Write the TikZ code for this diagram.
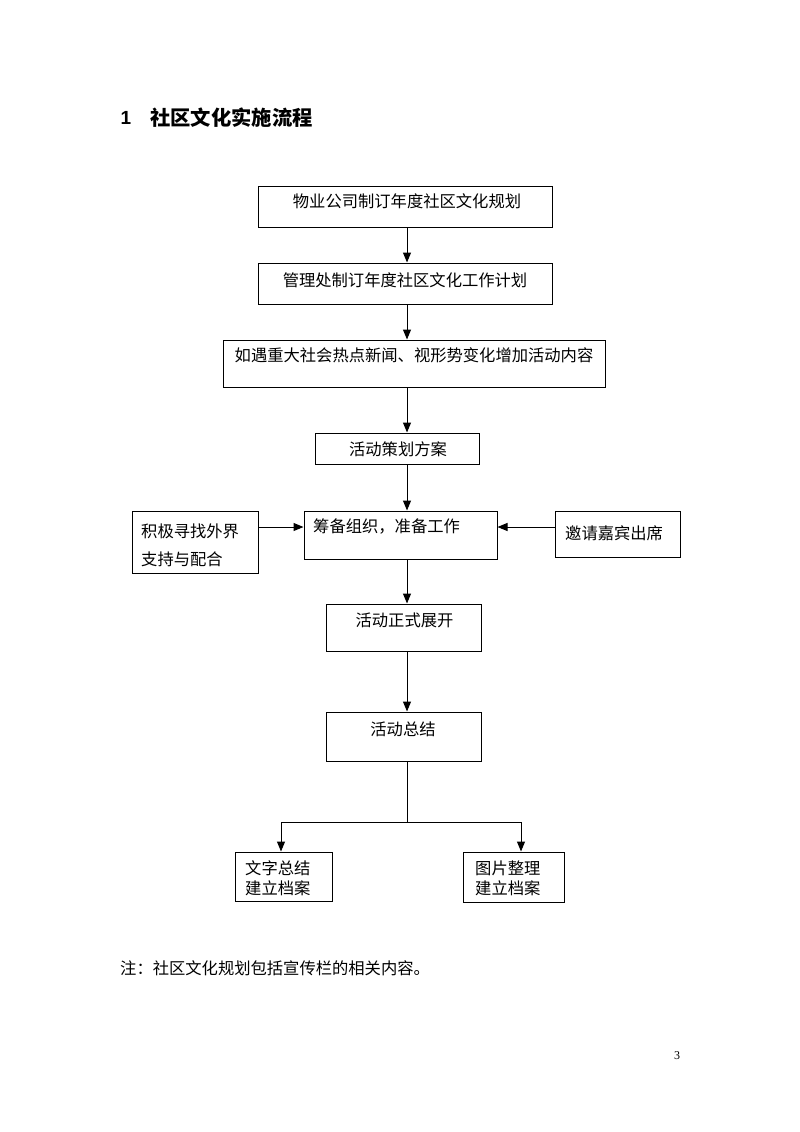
\documentclass[tikz,border=0pt]{standalone}
\usepackage{fontspec}
\usetikzlibrary{arrows.meta}
\newfontfamily\cjk{Noto Sans CJK SC}
\setmainfont{Liberation Serif}
\newfontfamily\lsans{Liberation Sans}
\begin{document}
\begin{tikzpicture}[x=1pt,y=-1pt,
  box/.style={draw, line width=1pt, inner sep=0pt},
  txt/.style={font=\fontsize{16.3}{28}\cjk, inner sep=0pt},
  arr/.style={line width=1pt, -{Triangle[length=10pt,width=8pt]}},
  ln/.style={line width=1pt}]
\useasboundingbox (0,0) rectangle (800,1132);
% title
\node[font=\fontsize{19}{22}\lsans\bfseries, inner sep=0pt] (num) at (126,118) {1};
\node[font=\fontsize{20.3}{22}\cjk\bfseries, anchor=west, inner sep=0pt] (title) at (150,118) {社区文化实施流程};
% boxes
\node[box, minimum width=294, minimum height=41] (b1) at (405,206.5) {};
\node[txt] (t1) at (407,201) {物业公司制订年度社区文化规划};
\node[box, minimum width=294, minimum height=41] (b2) at (405,283.5) {};
\node[txt] (t2) at (405,280) {管理处制订年度社区文化工作计划};
\node[box, minimum width=382, minimum height=47] (b3) at (414,363.5) {};
\node[txt] (t3) at (414,355) {如遇重大社会热点新闻、视形势变化增加活动内容};
\node[box, minimum width=164, minimum height=31] (b4) at (397,448.5) {};
\node[txt] (t4) at (398,449) {活动策划方案};
\node[box, minimum width=193, minimum height=48] (b5) at (400.5,535) {};
\node[txt, anchor=west] (t5) at (313,526) {筹备组织，准备工作};
\node[box, minimum width=126, minimum height=62] (bl) at (195,542) {};
\node[txt, anchor=west] (tl1) at (141,531) {积极寻找外界};
\node[txt, anchor=west] (tl2) at (141,559) {支持与配合};
\node[box, minimum width=125, minimum height=46] (br) at (617.5,534) {};
\node[txt, anchor=west] (tr) at (565,533) {邀请嘉宾出席};
\node[box, minimum width=155, minimum height=47] (b6) at (403.5,627.5) {};
\node[txt] (t6) at (404.5,620) {活动正式展开};
\node[box, minimum width=155, minimum height=49] (b7) at (403.5,736.5) {};
\node[txt] (t7) at (403,729) {活动总结};
\node[box, minimum width=97, minimum height=49] (b8) at (283.5,876.5) {};
\node[txt, anchor=west] (t81) at (245,868) {文字总结};
\node[txt, anchor=west] (t82) at (245,888) {建立档案};
\node[box, minimum width=101, minimum height=50] (b9) at (513.5,877) {};
\node[txt, anchor=west] (t91) at (475,868) {图片整理};
\node[txt, anchor=west] (t92) at (475,888) {建立档案};
% note and page number
\node[txt, anchor=west] (note) at (120,968) {注：社区文化规划包括宣传栏的相关内容。};
\node[font=\fontsize{12}{14}\selectfont, inner sep=0pt] (pg) at (677,1056) {3};
% connectors
\coordinate (ax) at (407,0);
\coordinate (hy) at (0,527);
\coordinate (jy) at (0,822);
\coordinate (lx) at (281,0);
\coordinate (rx) at (521,0);
\draw[arr] (b1.south -| ax) -- (b2.north -| ax);
\draw[arr] (b2.south -| ax) -- (b3.north -| ax);
\draw[arr] (b3.south -| ax) -- (b4.north -| ax);
\draw[arr] (b4.south -| ax) -- (b5.north -| ax);
\draw[arr] (bl.east |- hy) -- (b5.west |- hy);
\draw[arr] (br.west |- hy) -- (b5.east |- hy);
\draw[arr] (b5.south -| ax) -- (b6.north -| ax);
\draw[arr] (b6.south -| ax) -- (b7.north -| ax);
\draw[ln] (b7.south -| ax) -- (ax |- jy) coordinate (j);
\draw[ln] (lx |- jy) -- (rx |- jy);
\draw[arr] (lx |- jy) -- (b8.north -| lx);
\draw[arr] (rx |- jy) -- (b9.north -| rx);
\end{tikzpicture}
\end{document}
